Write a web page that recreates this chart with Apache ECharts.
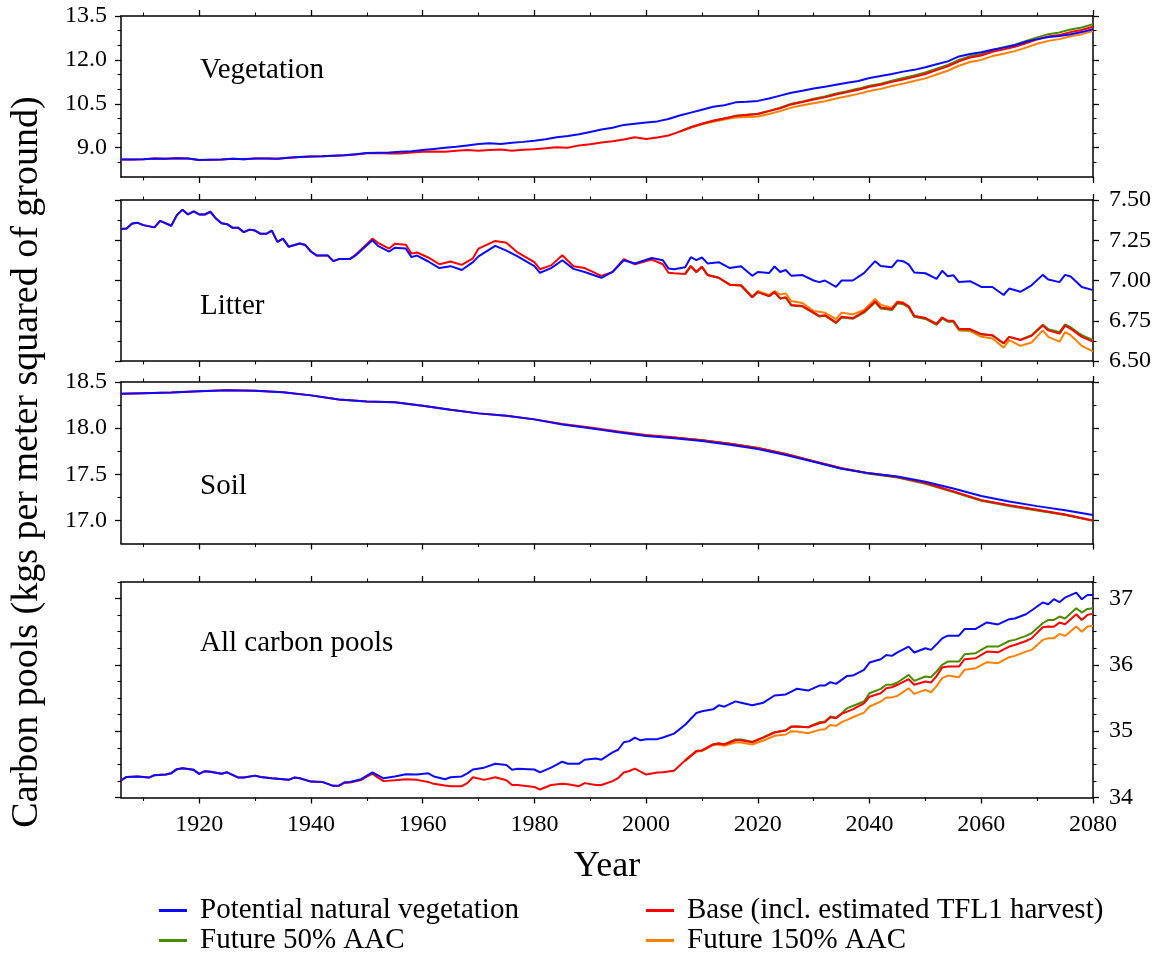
<!DOCTYPE html>
<html>
<head>
<meta charset="utf-8">
<script src="https://cdn.jsdelivr.net/npm/echarts@6/dist/echarts.min.js"></script>
<style>html,body{margin:0;padding:0;background:#fff}#c{width:1160px;height:957px}</style>
</head>
<body>
<div id="c"></div>
<script>
// ---------------- DATA ----------------
const seriesNames = ['Potential natural vegetation', 'Base (incl. estimated TFL1 harvest)', 'Future 50% AAC', 'Future 150% AAC'];
const xTickMajor = [1920, 1940, 1960, 1980, 2000, 2020, 2040, 2060, 2080];
const xTickMinor = [1910, 1930, 1950, 1970, 1990, 2010, 2030, 2050, 2070];

// Vegetation
const vegYears = [1906,1908,1910,1912,1914,1916,1918,1920,1922,1924,1926,1928,1930,1932,1934,1936,1938,1940,1942,1944,1946,1948,1950,1952,1954,1956,1958,1960,1962,1964,1966,1968,1970,1972,1974,1976,1978,1980,1982,1984,1986,1988,1990,1992,1994,1996,1998,2000,2002,2004,2006,2008,2010,2012,2014,2016,2018,2020,2022,2024,2026,2028,2030,2032,2034,2036,2038,2040,2042,2044,2046,2048,2050,2052,2054,2056,2058,2060,2062,2064,2066,2068,2070,2072,2074,2076,2078,2080];
const vegPNV = [8.60,8.60,8.61,8.63,8.62,8.64,8.63,8.58,8.59,8.60,8.62,8.61,8.63,8.63,8.62,8.66,8.68,8.70,8.71,8.73,8.74,8.78,8.82,8.83,8.84,8.86,8.88,8.92,8.96,9.00,9.03,9.08,9.13,9.15,9.13,9.17,9.20,9.24,9.29,9.36,9.40,9.46,9.54,9.62,9.68,9.78,9.82,9.86,9.90,9.98,10.10,10.20,10.30,10.40,10.45,10.55,10.57,10.60,10.68,10.78,10.88,10.95,11.02,11.08,11.15,11.22,11.28,11.38,11.45,11.52,11.60,11.66,11.75,11.85,11.95,12.12,12.20,12.26,12.35,12.42,12.50,12.62,12.71,12.78,12.82,12.88,12.95,13.05];
const vegBase = [8.60,8.60,8.61,8.63,8.62,8.64,8.63,8.58,8.59,8.60,8.62,8.61,8.63,8.63,8.62,8.66,8.68,8.70,8.71,8.73,8.74,8.77,8.81,8.82,8.80,8.80,8.84,8.86,8.87,8.86,8.90,8.92,8.90,8.92,8.94,8.90,8.93,8.95,8.98,9.02,9.00,9.08,9.12,9.18,9.22,9.28,9.36,9.30,9.35,9.42,9.55,9.70,9.82,9.92,10.00,10.08,10.12,10.15,10.25,10.35,10.48,10.56,10.65,10.72,10.82,10.90,10.98,11.08,11.15,11.25,11.33,11.42,11.52,11.65,11.78,11.95,12.08,12.15,12.28,12.36,12.45,12.57,12.70,12.80,12.85,12.95,13.02,13.13];
const vegFutureYears = [2006,2008,2010,2012,2014,2016,2018,2020,2022,2024,2026,2028,2030,2032,2034,2036,2038,2040,2042,2044,2046,2048,2050,2052,2054,2056,2058,2060,2062,2064,2066,2068,2070,2072,2074,2076,2078,2080];
const vegAAC50 = [9.55,9.70,9.82,9.92,10.00,10.09,10.13,10.16,10.26,10.37,10.50,10.58,10.67,10.75,10.85,10.93,11.02,11.12,11.19,11.29,11.38,11.47,11.57,11.70,11.83,12.00,12.13,12.20,12.34,12.43,12.52,12.65,12.77,12.88,12.94,13.04,13.11,13.22];
const vegAAC150 = [9.55,9.69,9.80,9.89,9.96,10.03,10.05,10.07,10.15,10.25,10.37,10.45,10.52,10.59,10.68,10.76,10.84,10.94,11.01,11.11,11.19,11.28,11.37,11.50,11.63,11.80,11.93,12.00,12.13,12.21,12.30,12.42,12.55,12.65,12.71,12.81,12.88,12.99];

// Litter
const litterYears = [1906,1907,1908,1909,1910,1912,1913,1915,1916,1917,1918,1919,1920,1921,1922,1923,1924,1925,1926,1927,1928,1929,1930,1931,1932,1933,1934,1935,1936,1938,1939,1940,1941,1943,1944,1945,1947,1948,1951,1952,1954,1955,1957,1958,1959,1961,1963,1965,1967,1969,1970,1973,1975,1977,1980,1981,1983,1985,1987,1989,1992,1994,1996,1998,2001,2003,2004,2005,2007,2008,2009,2010,2011,2013,2015,2017,2019,2020,2022,2023,2024,2025,2026,2028,2030,2031,2032,2034,2035,2037,2039,2041,2042,2044,2045,2046,2047,2048,2050,2052,2053,2054,2055,2056,2058,2060,2062,2064,2065,2067,2069,2071,2072,2074,2075,2076,2078,2080];
const litterPNV = [7.32,7.323,7.354,7.358,7.344, 7.33,7.37,7.34,7.406,7.44, 7.41,7.43,7.41,7.41,7.427, 7.385,7.355,7.35,7.327,7.327, 7.30,7.316,7.31,7.29,7.29, 7.31,7.24,7.26,7.21,7.23, 7.22,7.18,7.156,7.156,7.12, 7.133,7.133,7.156,7.25,7.215, 7.18,7.203,7.198,7.145,7.155, 7.118,7.077,7.089,7.065,7.114, 7.15,7.215,7.186,7.15,7.089, 7.048,7.077,7.126,7.072,7.053, 7.017,7.053,7.126,7.106,7.14, 7.126,7.075,7.07,7.082,7.145, 7.126,7.143,7.106,7.114,7.077, 7.089,7.029,7.053,7.046,7.087, 7.053,7.065,7.029,7.034,7.0, 6.99,7.0,6.96,7.0,7.0, 7.046,7.12,7.09,7.083,7.125, 7.12,7.10,7.05,7.045,7.01, 7.06,7.027,7.033,6.99,6.996, 6.96,6.96,6.91,6.95,6.93, 6.97,7.035,7.006,6.99,7.035, 7.025,6.96,6.94];
const litterBase = [7.32,7.323,7.354,7.358,7.344, 7.33,7.37,7.34,7.406,7.44, 7.41,7.43,7.41,7.41,7.427, 7.385,7.355,7.35,7.327,7.327, 7.30,7.316,7.31,7.29,7.29, 7.31,7.24,7.26,7.21,7.23, 7.22,7.18,7.156,7.156,7.12, 7.133,7.135,7.16,7.26,7.234, 7.198,7.229,7.222,7.167,7.174, 7.143,7.101,7.118,7.097,7.138, 7.198,7.246,7.234,7.174,7.114, 7.07,7.094,7.157,7.089,7.077, 7.029,7.053,7.133,7.101,7.13, 7.101,7.048,7.045,7.041,7.089, 7.053,7.085,7.034,7.017,6.973, 6.969,6.896,6.928,6.903,6.928, 6.889,6.896,6.848,6.841,6.80, 6.78,6.785,6.74,6.775,6.767, 6.806,6.87,6.833,6.823,6.865, 6.86,6.84,6.78,6.767,6.73, 6.77,6.75,6.75,6.70,6.698, 6.667,6.66,6.61,6.65,6.63, 6.656,6.72,6.69,6.67,6.72, 6.70,6.65,6.62];
const litterFutureYears = [2007,2008,2009,2010,2011,2013,2015,2017,2019,2020,2022,2023,2024,2025,2026,2028,2030,2031,2032,2034,2035,2037,2039,2041,2042,2044,2045,2046,2047,2048,2050,2052,2053,2054,2055,2056,2058,2060,2062,2064,2065,2067,2069,2071,2072,2074,2075,2076,2078,2080];
const litterAAC50 = [7.041,7.089,7.053,7.085,7.034, 7.017,6.973,6.969,6.896,6.928, 6.903,6.926,6.887,6.893,6.845, 6.838,6.797,6.776,6.781,6.735, 6.77,6.762,6.80,6.864,6.826, 6.816,6.858,6.853,6.833,6.774, 6.761,6.724,6.764,6.744,6.745, 6.696,6.694,6.664,6.658,6.609, 6.65,6.632,6.66,6.726,6.698, 6.68,6.728,6.71,6.66,6.63];
const litterAAC150 = [7.041,7.089,7.053,7.085,7.034, 7.017,6.975,6.972,6.90,6.935, 6.91,6.935,6.913,6.92,6.872, 6.86,6.81,6.806,6.80,6.76, 6.80,6.79,6.817,6.885,6.85, 6.83,6.87,6.865,6.84,6.78, 6.767,6.73,6.77,6.748,6.745, 6.69,6.685,6.65,6.64,6.583, 6.63,6.594,6.615,6.69,6.65, 6.62,6.68,6.66,6.594,6.56];

// Soil
const soilYears = [1906,1910,1915,1920,1925,1930,1935,1940,1945,1950,1955,1960,1965,1970,1975,1980,1985,1990,1995,2000,2005,2010,2015,2020,2025,2030,2035,2040,2045,2050,2055,2060,2065,2070,2075,2080];
const soilPNV = [18.373,18.378,18.385,18.40,18.41,18.406,18.39,18.355,18.31,18.29,18.28,18.243,18.20,18.16,18.135,18.095,18.04,18.0,17.955,17.915,17.89,17.86,17.82,17.775,17.71,17.635,17.56,17.51,17.475,17.42,17.345,17.265,17.205,17.155,17.11,17.06];
const soilBase = [18.373,18.378,18.385,18.40,18.41,18.406,18.39,18.355,18.31,18.29,18.28,18.243,18.20,18.16,18.135,18.095,18.045,18.008,17.963,17.925,17.90,17.87,17.83,17.785,17.72,17.642,17.565,17.51,17.47,17.405,17.315,17.22,17.165,17.115,17.065,17.0];
const soilFutureYears = [2005,2010,2015,2020,2025,2030,2035,2040,2045,2050,2055,2060,2065,2070,2075,2080];
const soilAAC50 = [17.90,17.87,17.83,17.785,17.72,17.64,17.562,17.506,17.465,17.398,17.307,17.212,17.157,17.107,17.058,16.995];
const soilAAC150 = [17.90,17.87,17.83,17.785,17.72,17.642,17.565,17.51,17.47,17.405,17.313,17.218,17.163,17.113,17.063,16.998];

// All carbon pools
const allYears = [1906,1907,1909,1911,1912,1914,1915,1916,1917,1919, 1920,1921,1922,1924,1925,1927,1928,1930,1931,1933, 1936,1937,1938,1940,1942,1944,1945,1946,1947,1949, 1951,1952,1953,1955,1957,1959,1961,1962,1964,1965, 1967,1968,1969,1971,1973,1975,1976,1977,1980,1981, 1983,1985,1986,1988,1989,1991,1992,1994,1995,1996, 1997,1998,1999,2000,2002,2003,2005,2007,2009,2010, 2012,2013,2014,2016,2017,2019,2021,2023,2025,2026, 2027,2029,2031,2032,2033,2034,2035,2036,2037,2039, 2040,2042,2043,2044,2045,2047,2048,2050,2051,2052, 2053,2054,2056,2057,2059,2061,2063,2065,2066,2068, 2069,2071,2072,2073,2074,2075,2077,2078,2079,2080];
const allPNV = [34.256,34.31,34.317,34.30,34.337,34.347,34.367,34.427,34.442,34.417, 34.357,34.397,34.387,34.357,34.38,34.30,34.30,34.33,34.31,34.29, 34.266,34.30,34.29,34.24,34.235,34.176,34.18,34.23,34.235,34.276, 34.38,34.335,34.29,34.317,34.35,34.346,34.364,34.317,34.276,34.306, 34.317,34.364,34.422,34.45,34.51,34.49,34.42,34.435,34.422,34.38, 34.45,34.54,34.51,34.51,34.57,34.587,34.57,34.68,34.72,34.833, 34.85,34.904,34.863,34.88,34.88,34.904,34.963,35.097,35.274,35.30, 35.33,35.39,35.37,35.45,35.43,35.39,35.43,35.538,35.555,35.597, 35.64,35.613,35.688,35.688,35.739,35.713,35.774,35.834,35.839,35.925, 36.035,36.085,36.15,36.136,36.19,36.276,36.186,36.25,36.226,36.31, 36.40,36.44,36.44,36.54,36.543,36.64,36.61,36.69,36.70,36.764, 36.82,36.94,36.915,36.99,36.945,37.015,37.09,36.99,37.055,37.055];
const allBase = [34.256,34.31,34.317,34.30,34.337,34.347,34.367,34.427,34.442,34.417, 34.357,34.397,34.387,34.357,34.38,34.30,34.30,34.33,34.31,34.29, 34.266,34.30,34.29,34.24,34.235,34.176,34.175,34.22,34.225,34.265, 34.36,34.30,34.247,34.26,34.276,34.266,34.235,34.206,34.18,34.17, 34.17,34.217,34.306,34.266,34.306,34.26,34.188,34.19,34.159,34.12, 34.188,34.206,34.20,34.17,34.217,34.188,34.188,34.247,34.294,34.376, 34.40,34.435,34.39,34.346,34.376,34.38,34.405,34.56,34.70,34.71, 34.80,34.816,34.80,34.863,34.865,34.833,34.904,34.98,35.01,35.068, 35.07,35.06,35.12,35.136,35.211,35.196,35.26,35.296,35.33,35.42, 35.52,35.573,35.648,35.663,35.70,35.784,35.70,35.749,35.734,35.83, 35.96,35.975,35.975,36.085,36.10,36.20,36.19,36.276,36.30,36.36, 36.40,36.568,36.578,36.575,36.638,36.613,36.764,36.678,36.754,36.77];
const allFutureYears = [2007,2009,2010,2012,2013,2014,2016,2017,2019,2021, 2023,2025,2026,2027,2029,2031,2032,2033,2034,2035, 2036,2037,2039,2040,2042,2043,2044,2045,2047,2048, 2050,2051,2052,2053,2054,2056,2057,2059,2061,2063, 2065,2066,2068,2069,2071,2072,2073,2074,2075,2077, 2078,2079,2080];
const allAAC50 = [34.56,34.70,34.71,34.80,34.82,34.805,34.875,34.875,34.84,34.91, 34.985,35.015,35.07,35.07,35.06,35.136,35.146,35.22,35.206,35.27, 35.347,35.38,35.447,35.573,35.638,35.70,35.70,35.734,35.85,35.759, 35.824,35.814,35.90,36.0,36.05,36.05,36.16,36.176,36.276,36.276, 36.36,36.377,36.437,36.477,36.628,36.678,36.678,36.729,36.70,36.854, 36.789,36.844,36.854];
const allAAC150 = [34.55,34.69,34.70,34.79,34.80,34.78,34.83,34.83,34.80,34.86, 34.93,34.95,35.0,34.995,34.97,35.02,35.03,35.095,35.08,35.136, 35.17,35.21,35.28,35.372,35.447,35.508,35.51,35.533,35.648,35.563, 35.623,35.588,35.68,35.80,35.839,35.814,35.925,35.95,36.04,36.025, 36.116,36.136,36.20,36.226,36.377,36.40,36.40,36.467,36.437,36.578, 36.50,36.578,36.588];

// Y ticks per panel
const vegTicks = [9.0, 10.5, 12.0, 13.5];
const vegMinor = [8.5, 9.5, 10.0, 11.0, 11.5, 12.5, 13.0];
const litterTicks = [6.5, 6.75, 7.0, 7.25, 7.5];
const litterMinor = [6.625, 6.875, 7.125, 7.375];
const soilTicks = [17.0, 17.5, 18.0, 18.5];
const soilMinor = [17.25, 17.75, 18.25];
const allTicks = [34, 35, 36, 37];
const allMinor = [34.25, 34.5, 34.75, 35.25, 35.5, 35.75, 36.25, 36.5, 36.75, 37.25];

// ---------------- CHART ----------------
const FONT = "'Liberation Serif', 'Times New Roman', serif";
const COLORS = ['#0a0aff', '#ff0000', '#4b8b00', '#ff8000'];
const chart = echarts.init(document.getElementById('c'), null, {renderer: 'canvas'});

const grids = [
  {left: 121, right: 67, top: 16, height: 161},
  {left: 121, right: 67, top: 200, height: 161},
  {left: 121, right: 67, top: 382, height: 161.5},
  {left: 121, right: 67, top: 582, height: 215.5}
];
const panels = [
  {min: 8, max: 13.5, ticks: vegTicks, minor: vegMinor, side: 'left', dec: 1},
  {min: 6.5, max: 7.5, ticks: litterTicks, minor: litterMinor, side: 'right', dec: 2},
  {min: 16.75, max: 18.5, ticks: soilTicks, minor: soilMinor, side: 'left', dec: 1},
  {min: 34, max: 37.25, ticks: allTicks, minor: allMinor, side: 'right', dec: 0}
];
const lineAx = {show: true, onZero: false, lineStyle: {color: '#000', width: 1.5}};
const labelStyle = {color: '#000', fontFamily: FONT, fontSize: 24};

const xAxis = [], yAxis = [];
panels.forEach((p, gi) => {
  ['bottom', 'top'].forEach(pos => {
    const showLab = (pos === 'bottom' && gi === 3);
    xAxis.push({
      type: 'value', gridIndex: gi, position: pos, min: 1906, max: 2080,
      axisLine: lineAx, splitLine: {show: false},
      axisTick: {show: true, length: 6, customValues: xTickMajor, lineStyle: {color: '#000', width: 1.3}},
      axisLabel: showLab ? Object.assign({show: true, margin: 15, customValues: xTickMajor,
        formatter: v => String(Math.round(v))}, labelStyle) : {show: false}
    });
    xAxis.push({
      type: 'value', gridIndex: gi, position: pos, min: 1906, max: 2080,
      axisLine: {show: false}, splitLine: {show: false},
      axisTick: {show: true, length: 3.5, customValues: xTickMinor, lineStyle: {color: '#000', width: 1.1}},
      axisLabel: {show: false}
    });
  });
  ['left', 'right'].forEach(pos => {
    const showLab = (pos === p.side);
    yAxis.push({
      type: 'value', gridIndex: gi, position: pos, min: p.min, max: p.max,
      axisLine: lineAx, splitLine: {show: false},
      axisTick: {show: true, length: 6, customValues: p.ticks, lineStyle: {color: '#000', width: 1.3}},
      axisLabel: showLab ? Object.assign({show: true, margin: pos === 'left' ? 14 : 16, customValues: p.ticks,
        formatter: v => Number(v).toFixed(p.dec)}, labelStyle) : {show: false}
    });
    yAxis.push({
      type: 'value', gridIndex: gi, position: pos, min: p.min, max: p.max,
      axisLine: {show: false}, splitLine: {show: false},
      axisTick: {show: true, length: 3.5, customValues: p.minor, lineStyle: {color: '#000', width: 1.1}},
      axisLabel: {show: false}
    });
  });
});

function mk(nameIdx, xs, ys, gi, z) {
  return {
    type: 'line', name: seriesNames[nameIdx], xAxisIndex: gi * 4, yAxisIndex: gi * 4,
    data: xs.map((x, i) => [x, ys[i]]), showSymbol: false, symbol: 'none',
    lineStyle: {color: COLORS[nameIdx], width: 2}, itemStyle: {color: COLORS[nameIdx]},
    z: z, animation: false, silent: true
  };
}

const series = [
  mk(3, vegFutureYears, vegAAC150, 0, 2), mk(2, vegFutureYears, vegAAC50, 0, 3), mk(1, vegYears, vegBase, 0, 4), mk(0, vegYears, vegPNV, 0, 5),
  mk(3, litterFutureYears, litterAAC150, 1, 2), mk(2, litterFutureYears, litterAAC50, 1, 3), mk(1, litterYears, litterBase, 1, 4), mk(0, litterYears, litterPNV, 1, 5),
  mk(3, soilFutureYears, soilAAC150, 2, 2), mk(2, soilFutureYears, soilAAC50, 2, 3), mk(1, soilYears, soilBase, 2, 4), mk(0, soilYears, soilPNV, 2, 5),
  mk(3, allFutureYears, allAAC150, 3, 2), mk(2, allFutureYears, allAAC50, 3, 3), mk(1, allYears, allBase, 3, 4), mk(0, allYears, allPNV, 3, 5)
];

const legendCommon = {
  orient: 'vertical', itemWidth: 28, itemHeight: 3, itemGap: 1, icon: 'rect', selectedMode: false,
  padding: 0, height: 62,
  textStyle: {color: '#000', fontFamily: FONT, fontSize: 29, lineHeight: 29, padding: [0, 0, 0, 8]}
};

const txt = (t, x, y, size, extra) => ({
  type: 'text', x: x, y: y, silent: true,
  style: Object.assign({text: t, font: size + 'px ' + FONT, fill: '#000', textVerticalAlign: 'middle'}, extra || {})
});

chart.setOption({
  backgroundColor: '#fff',
  animation: false,
  grid: grids,
  xAxis: xAxis,
  yAxis: yAxis,
  legend: [
    Object.assign({left: 159, top: 896, data: [seriesNames[0], seriesNames[2]]}, legendCommon),
    Object.assign({left: 646, top: 896, data: [seriesNames[1], seriesNames[3]]}, legendCommon)
  ],
  graphic: [
    txt('Vegetation', 200, 70, 29),
    txt('Litter', 200, 306, 29),
    txt('Soil', 200, 486, 29),
    txt('All carbon pools', 200, 643, 29),
    txt('Year', 607, 867, 36, {textAlign: 'center'}),
    Object.assign(txt('Carbon pools (kgs per meter squared of ground)', 0, 0, 38, {textAlign: 'center'}), {x: 27, y: 462, rotation: Math.PI / 2})
  ],
  series: series
});
</script>
</body>
</html>
